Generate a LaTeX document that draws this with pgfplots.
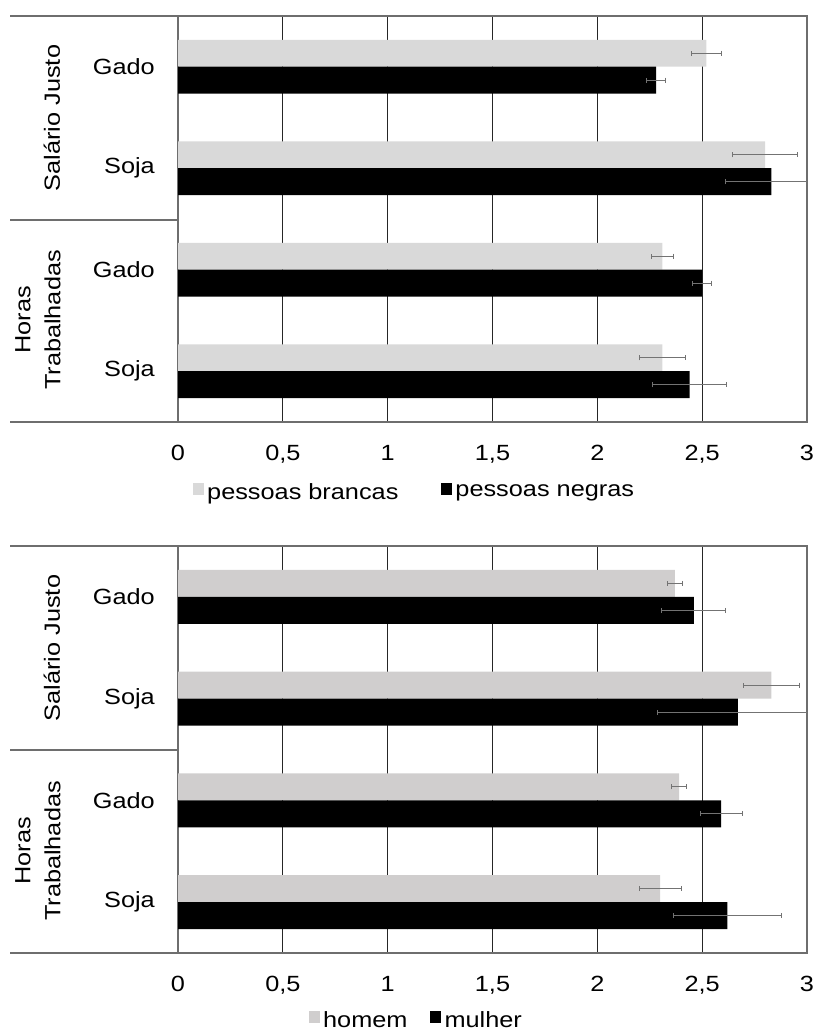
\documentclass[border=0pt]{standalone}
\usepackage{pgfplots}
\pgfplotsset{compat=1.18}
\usepackage{pgfplotstable}
\usepackage{fontspec}
\setmainfont{Liberation Sans}[FakeStretch=1.15]

\definecolor{barlightA}{RGB}{217,217,217}
\definecolor{barlightB}{RGB}{208,206,206}
\definecolor{framegray}{RGB}{110,110,110}
\definecolor{errgray}{RGB}{115,115,115}

\newcommand\chartfont{\fontsize{22}{26}\selectfont}

% top panel: race
\pgfplotstableread{
pos val err
0 2.52 0.070
1 2.80 0.155
2 2.31 0.052
3 2.31 0.110
}\brancas
\pgfplotstableread{
pos val err
0 2.28 0.045
1 2.83 0.220
2 2.50 0.045
3 2.44 0.175
}\negras
% bottom panel: gender
\pgfplotstableread{
pos val err
0 2.37 0.037
1 2.83 0.133
2 2.39 0.035
3 2.30 0.100
}\homem
\pgfplotstableread{
pos val err
0 2.46 0.153
1 2.67 0.385
2 2.59 0.100
3 2.62 0.257
}\mulher

\pgfplotsset{
  panel/.style={
    scale only axis,
    width=629pt,
    xmin=0, xmax=3,
    ymin=-0.5, ymax=3.5,
    y dir=reverse,
    xtick={0,0.5,1,1.5,2,2.5,3},
    xticklabels={0,{0,5},1,{1,5},2,{2,5},3},
    ytick={0,1,2,3},
    yticklabels={Gado,Soja,Gado,Soja},
    major tick length=0pt,
    xmajorgrids,
    grid style={black!85, line width=1.2pt},
    axis line style={framegray, line width=1.2pt},
    tick label style={font=\chartfont},
    xticklabel style={anchor=north, inner sep=0pt, yshift=-23pt},
    yticklabel style={anchor=east, inner sep=0pt, xshift=-23pt},
    legend columns=2,
    legend image code/.code={\fill[##1] (0pt,-3pt) rectangle (11pt,9pt);},
    legend style={draw=none, fill=none, font=\chartfont, inner sep=0pt,
      anchor=center, nodes={inner xsep=3.5pt, inner ysep=1.5pt}},
  },
  % bars are placed at their own offset rows, so the error bars sit on them
  upper/.style={xbar, bar width=0.265, bar shift=0pt, draw=none},
  lower/.style={xbar, bar width=0.265, bar shift=0pt, draw=none},
  errstyle/.style={
    error bars/.cd, x dir=both, x explicit,
    error mark=|,
    error bar style={errgray, line width=1pt},
    error mark options={errgray, line width=1pt, mark size=2.6pt},
  },
}

\begin{document}
\begin{tikzpicture}
\useasboundingbox (0pt,0pt) rectangle (814pt,1032pt);

% ---------- top panel ----------
\begin{axis}[panel,
  at={(178pt,610pt)}, anchor=south west, height=406pt,
  legend style={at={(0.377,-0.172)},
    /tikz/every even column/.append style={column sep=39pt}},
]
\addplot[upper, fill=barlightA, errstyle]
  table[x=val, y expr=\thisrow{pos}-0.1325, x error=err] {\brancas};
\addplot[lower, fill=black, errstyle]
  table[x=val, y expr=\thisrow{pos}+0.1325, x error=err] {\negras};
\legend{pessoas brancas, pessoas negras}
\end{axis}
\draw[framegray, line width=1.2pt] (10pt,1016pt) -- (178pt,1016pt);
\draw[framegray, line width=1.2pt] (10pt,812pt) -- (178pt,812pt);
\draw[framegray, line width=1.2pt] (10pt,610pt) -- (178pt,610pt);
\node[rotate=90, font=\chartfont] at (52pt,914pt) {Salário Justo};
\node[rotate=90, font=\fontsize{22}{30}\selectfont, align=center] at (38pt,712pt) {Horas\\Trabalhadas};

% ---------- bottom panel ----------
\begin{axis}[panel,
  at={(178pt,79pt)}, anchor=south west, height=407pt,
  legend style={at={(0.38,-0.165)},
    /tikz/every even column/.append style={column sep=19pt}},
]
\addplot[upper, fill=barlightB, errstyle]
  table[x=val, y expr=\thisrow{pos}-0.1325, x error=err] {\homem};
\addplot[lower, fill=black, errstyle]
  table[x=val, y expr=\thisrow{pos}+0.1325, x error=err] {\mulher};
\legend{homem, mulher}
\end{axis}
\draw[framegray, line width=1.2pt] (10pt,486pt) -- (178pt,486pt);
\draw[framegray, line width=1.2pt] (10pt,282pt) -- (178pt,282pt);
\draw[framegray, line width=1.2pt] (10pt,79pt) -- (178pt,79pt);
\node[rotate=90, font=\chartfont] at (52pt,384pt) {Salário Justo};
\node[rotate=90, font=\fontsize{22}{30}\selectfont, align=center] at (38pt,181pt) {Horas\\Trabalhadas};
\end{tikzpicture}
\end{document}
